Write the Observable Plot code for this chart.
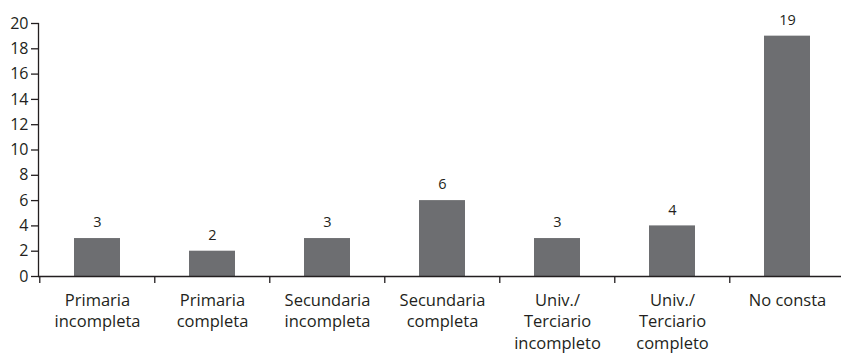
<!DOCTYPE html>
<html>
<head>
<meta charset="utf-8">
<script src="https://cdn.jsdelivr.net/npm/d3@7"></script>
<script src="https://cdn.jsdelivr.net/npm/@observablehq/plot@0.6"></script>
<style>
  html, body { margin: 0; padding: 0; background: #fff; overflow: hidden; }
  #chart svg { display: block; }
</style>
</head>
<body>
<div id="chart"></div>
<script>
const categories = [
  "Primaria\nincompleta",
  "Primaria\ncompleta",
  "Secundaria\nincompleta",
  "Secundaria\ncompleta",
  "Univ./\nTerciario\nincompleto",
  "Univ./\nTerciario\ncompleto",
  "No consta"
];
const values = [3, 2, 3, 6, 3, 4, 19];
const yTicks = [0, 2, 4, 6, 8, 10, 12, 14, 16, 18, 20];

const data = categories.map((c, i) => ({category: c, value: values[i]}));

const W = 841, H = 354;
const left = 38, right = 846;
const step = (right - left) / categories.length;
const ink = "#231f20";
const font = "'Open Sans', Lato, sans-serif";

const chart = Plot.plot({
  width: W,
  height: H,
  marginLeft: left,
  marginRight: 0,
  marginTop: 23,
  marginBottom: 78,
  style: {fontFamily: font, color: ink, background: "#fff", overflow: "hidden"},
  x: {type: "band", domain: categories, range: [left, right], paddingInner: 0.6, paddingOuter: 0.3, label: null},
  y: {domain: [0, 20], label: null},
  marks: [
    Plot.barY(data, {x: "category", y: "value", fill: "#6d6e71"}),
    Plot.text(data, {x: "category", y: "value", text: d => String(d.value), dy: -16, fontSize: 14.5, fill: ink}),
    Plot.frame({anchor: "left", stroke: ink, strokeWidth: 1.3}),
    Plot.ruleY([0], {stroke: ink, strokeWidth: 1.3}),
    Plot.ruleX(categories, {x: d => d, y1: 0, y2: 0, insetBottom: -7, dx: -step / 2, stroke: ink, strokeWidth: 1.3}),
    Plot.axisY({ticks: yTicks, tickSize: 7, tickPadding: 3, fontSize: 16, tickFormat: d => String(d), stroke: ink, strokeWidth: 1.3, fill: ink}),
    Plot.axisX({tickSize: 0, tickPadding: 14, fontSize: 16.5, lineHeight: 1.3, fill: ink})
  ]
});
document.getElementById("chart").appendChild(chart);
</script>
</body>
</html>
